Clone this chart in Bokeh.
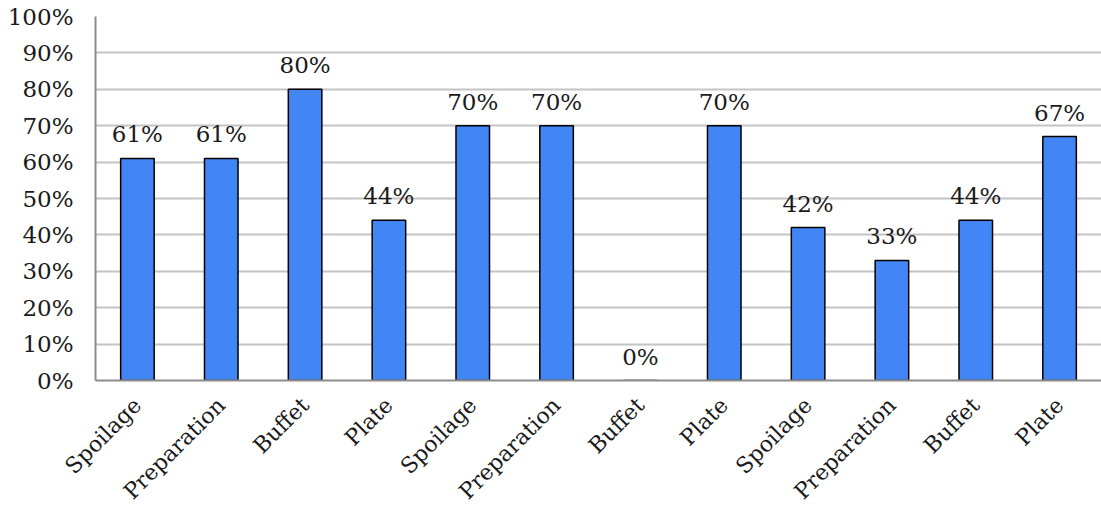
import math
from bokeh.plotting import figure
from bokeh.models import ColumnDataSource, FixedTicker, NumeralTickFormatter, Range1d
from bokeh.core.properties import value
from bokeh.embed import file_html
from bokeh.resources import INLINE

categories = ["Spoilage", "Preparation", "Buffet", "Plate",
              "Spoilage", "Preparation", "Buffet", "Plate",
              "Spoilage", "Preparation", "Buffet", "Plate"]
shares = [0.61, 0.61, 0.80, 0.44, 0.70, 0.70, 0.00, 0.70, 0.42, 0.33, 0.44, 0.67]
y_ticks = [0.0, 0.1, 0.2, 0.3, 0.4, 0.5, 0.6, 0.7, 0.8, 0.9, 1.0]

FONT = "DejaVu Serif"
FONT_SIZE = "23px"
TEXT_COLOR = "#1a1a1a"

x_pos = [i + 0.5 for i in range(len(categories))]
source = ColumnDataSource(data=dict(
    x=x_pos,
    top=shares,
    label=[f"{round(v * 100):d}%" for v in shares],
))

p = figure(width=1101, height=516, output_backend="svg", toolbar_location=None,
           x_range=Range1d(0, len(categories)), y_range=Range1d(0, 1),
           min_border_left=95, min_border_right=0, min_border_top=16,
           min_border_bottom=136)
p.outline_line_color = None
p.background_fill_color = "white"

p.vbar(x="x", top="top", width=0.4, bottom=0, source=source,
       fill_color="#4285F4", line_color="black", line_width=1.5)

p.text(x="x", y="top", text="label", source=source,
       text_align="center", text_baseline="bottom", y_offset=-11,
       text_font=value(FONT), text_font_size=FONT_SIZE, text_color=TEXT_COLOR)

# y axis
p.yaxis.ticker = FixedTicker(ticks=y_ticks)
p.yaxis.formatter = NumeralTickFormatter(format="0%")
p.yaxis.major_tick_line_color = None
p.yaxis.minor_tick_line_color = None
p.yaxis.axis_line_color = "#8c8c8c"
p.yaxis.axis_line_width = 2
p.yaxis.major_label_text_font = FONT
p.yaxis.major_label_text_font_size = FONT_SIZE
p.yaxis.major_label_text_color = TEXT_COLOR
p.yaxis.major_label_standoff = 16

# x axis with slanted category names
p.xaxis.ticker = FixedTicker(ticks=x_pos)
p.xaxis.major_label_overrides = {x: c for x, c in zip(x_pos, categories)}
p.xaxis.major_label_orientation = math.pi / 4
p.xaxis.major_tick_line_color = None
p.xaxis.minor_tick_line_color = None
p.xaxis.axis_line_color = "#8c8c8c"
p.xaxis.axis_line_width = 2
p.xaxis.major_label_text_font = FONT
p.xaxis.major_label_text_font_size = "22px"
p.xaxis.major_label_text_color = TEXT_COLOR
p.xaxis.major_label_standoff = 15

p.xgrid.grid_line_color = None
p.ygrid.ticker = FixedTicker(ticks=y_ticks)
p.ygrid.grid_line_color = "#c4c4c4"
p.ygrid.grid_line_width = 2

open("out.html", "w").write(file_html(p, INLINE))
